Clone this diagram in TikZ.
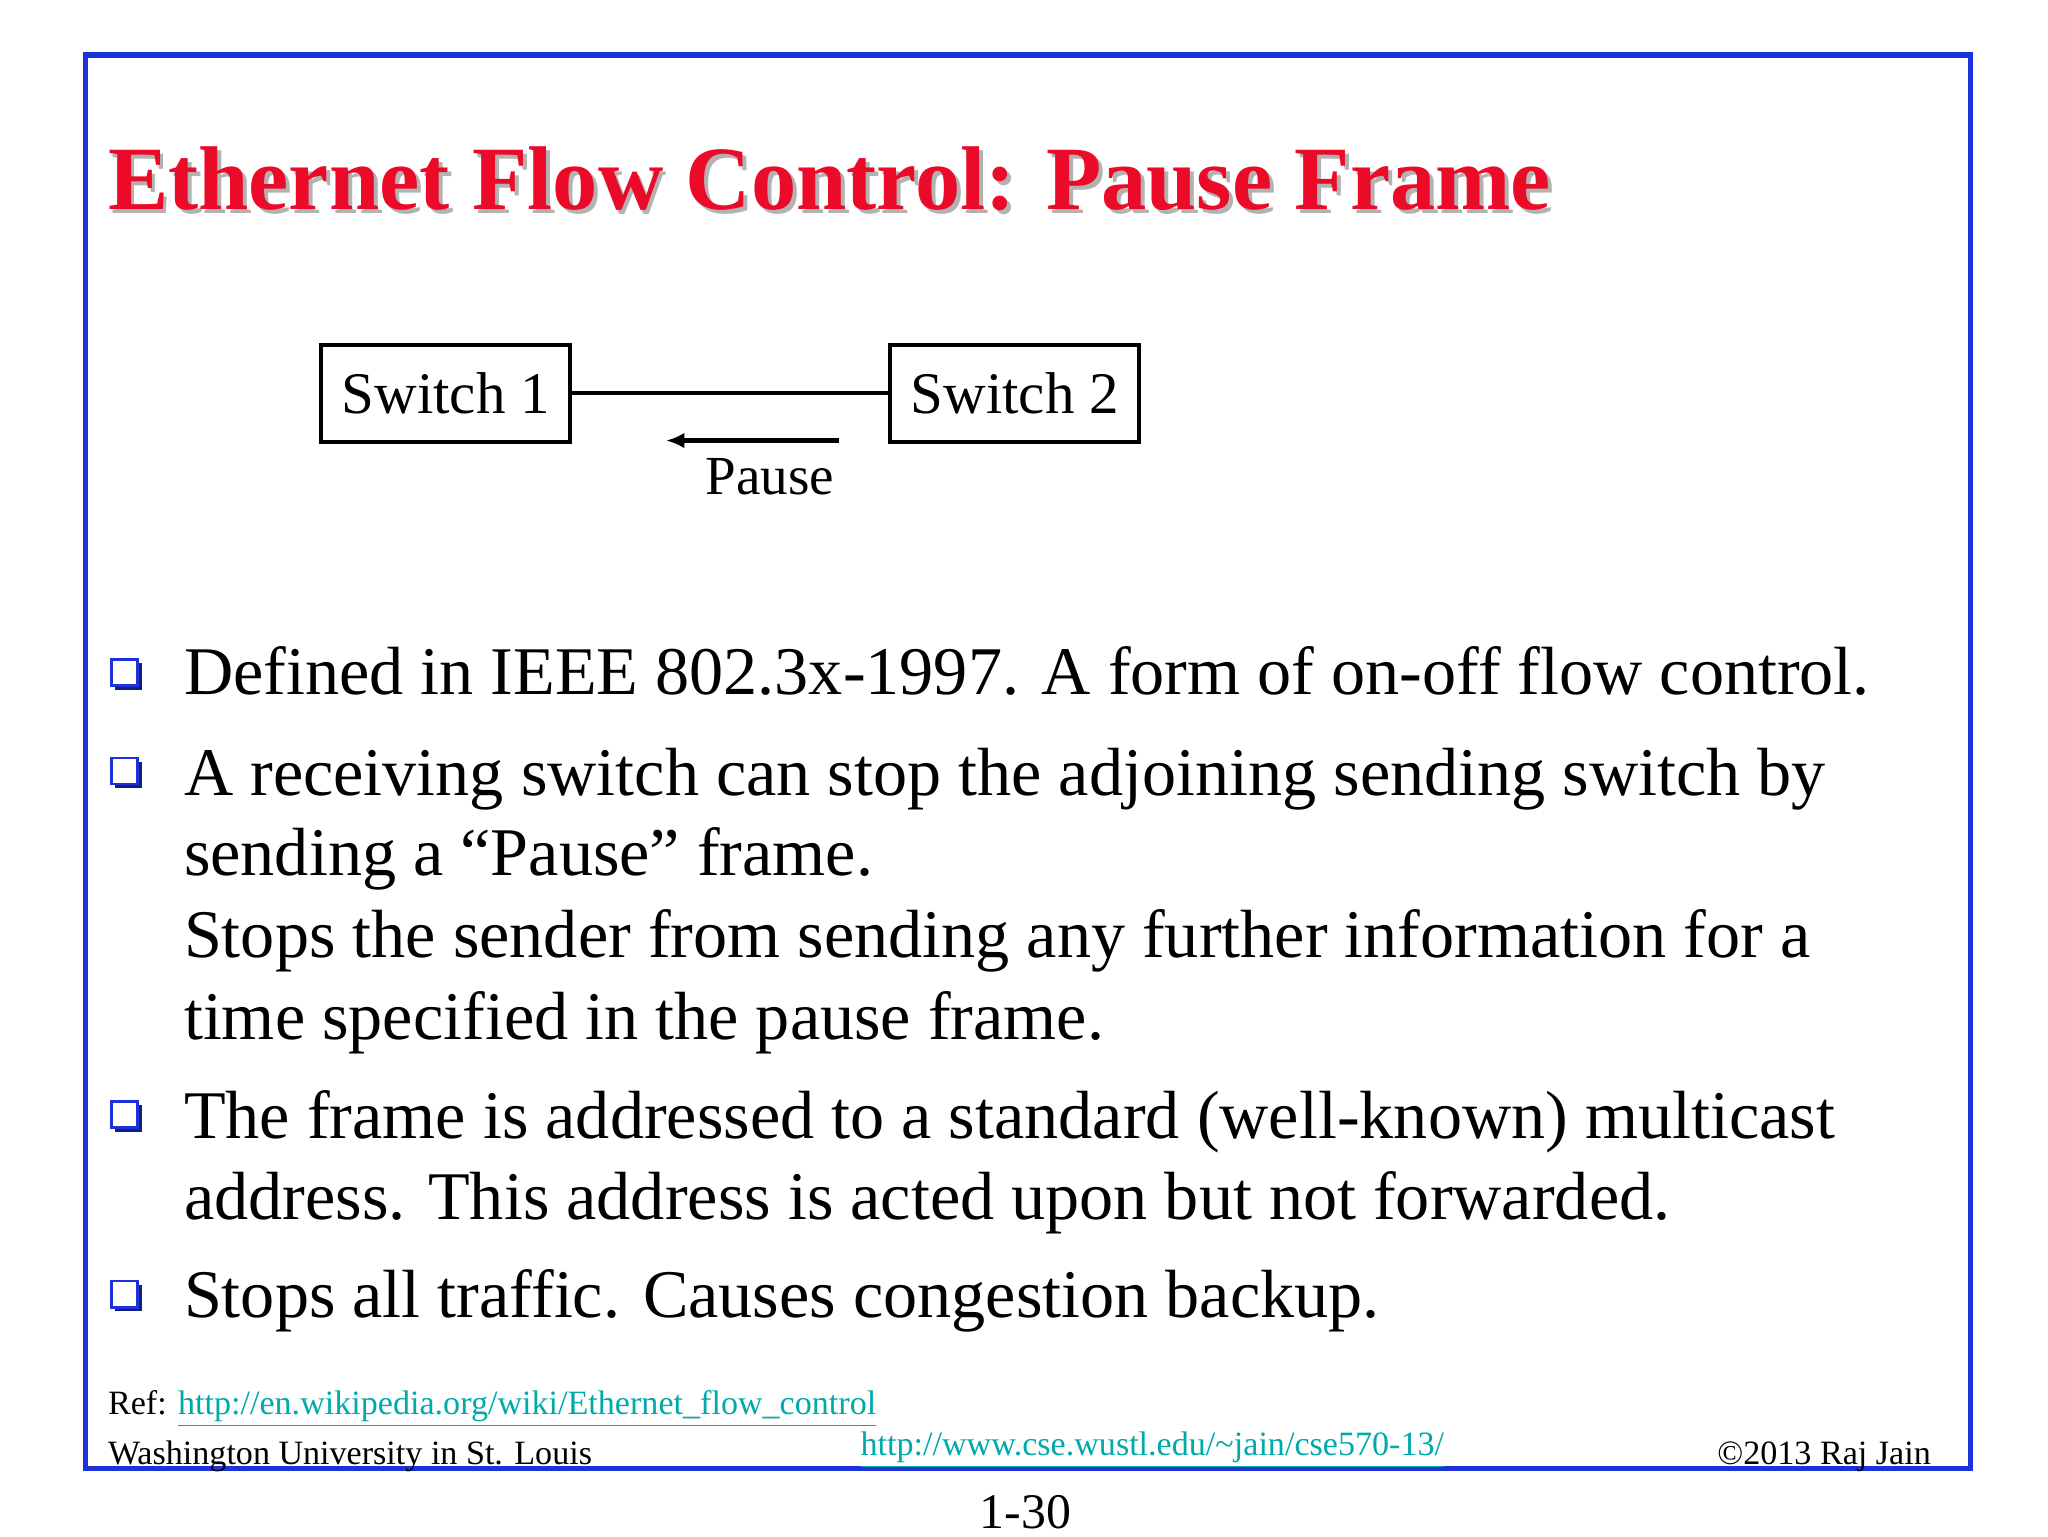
\documentclass[tikz,border=0pt]{standalone}
\usepackage{fontspec}
\setmainfont{Liberation Serif}
\usetikzlibrary{arrows.meta}
\definecolor{frameblue}{RGB}{30,50,220}
\definecolor{titlered}{RGB}{235,10,40}
\definecolor{linkc}{RGB}{0,170,170}
\tikzset{
  body/.style={anchor=base west,inner sep=0pt,font=\fontsize{26}{28}\selectfont},
  foot/.style={inner sep=0pt,font=\fontsize{13}{14}\selectfont},
  swbox/.style={draw,line width=1.6pt,minimum width=95pt,minimum height=37pt,inner sep=0pt,font=\fontsize{22.5}{24}\selectfont},
}
\newcommand{\bul}[2]{\fill[frameblue!60!black] (#1+3,#2+3) rectangle ++(20,20);
  \draw[frameblue,line width=1pt,fill=white] (#1,#2) rectangle ++(20,20);}
\begin{document}
\begin{tikzpicture}[x=0.5pt,y=-0.5pt]
\useasboundingbox (0,0) rectangle (1562,1172);
\fill[white] (0,0) rectangle (1562,1172);
\draw[frameblue,line width=2pt] (65,42) rectangle (1503,1120);
\node[anchor=base west,inner sep=0pt,font=\fontsize{34.5}{38}\selectfont\bfseries,text=gray!60] (tsh) at (85,163) {Ethernet Flow Control: Pause Frame};
\node[anchor=base west,inner sep=0pt,font=\fontsize{34.5}{38}\selectfont\bfseries,text=titlered] (title) at (82,160) {Ethernet Flow Control: Pause Frame};
\node[swbox] (s1) at (340,300) {Switch 1};
\node[swbox] (s2) at (774,300) {Switch 2};
\draw[line width=1.6pt] (s1) -- (s2);
\coordinate (a1) at (640,336); \coordinate (a2) at (508,336);
\draw[line width=1.6pt,-{Latex[length=7pt,width=6pt]}] (a1) -- (a2);
\node[anchor=base,inner sep=0pt,font=\fontsize{21}{24}\selectfont] (pause) at (587,377) {Pause};
\bul{85}{503}\bul{85}{578}\bul{85}{840}\bul{85}{977}
\node[body] (l1) at (140,530) {Defined in IEEE 802.3x-1997. A form of on-off flow control.};
\node[body] (l2) at (140,607) {A receiving switch can stop the adjoining sending switch by};
\node[body] (l3) at (140,668) {sending a “Pause” frame.};
\node[body] (l4) at (140,730) {Stops the sender from sending any further information for a};
\node[body] (l5) at (140,793) {time specified in the pause frame.};
\node[body] (l6) at (140,868) {The frame is addressed to a standard (well-known) multicast};
\node[body] (l7) at (140,930) {address. This address is acted upon but not forwarded.};
\node[body] (l8) at (140,1005) {Stops all traffic. Causes congestion backup.};
\node[foot,anchor=base west] (ref) at (82,1079) {Ref: \textcolor{linkc}{\underline{http://en.wikipedia.org/wiki/Ethernet\_flow\_control}}};
\node[foot,anchor=base west] (wu) at (82,1117) {Washington University in St. Louis};
\node[foot,anchor=base west] (url) at (656,1110) {\textcolor{linkc}{\underline{http://www.cse.wustl.edu/\textasciitilde jain/cse570-13/}}};
\node[foot,anchor=base east] (cr) at (1473,1117) {©2013 Raj Jain};
\node[anchor=base,inner sep=0pt,font=\fontsize{19}{21}\selectfont] (pg) at (782,1166) {1-30};
\end{tikzpicture}
\end{document}
